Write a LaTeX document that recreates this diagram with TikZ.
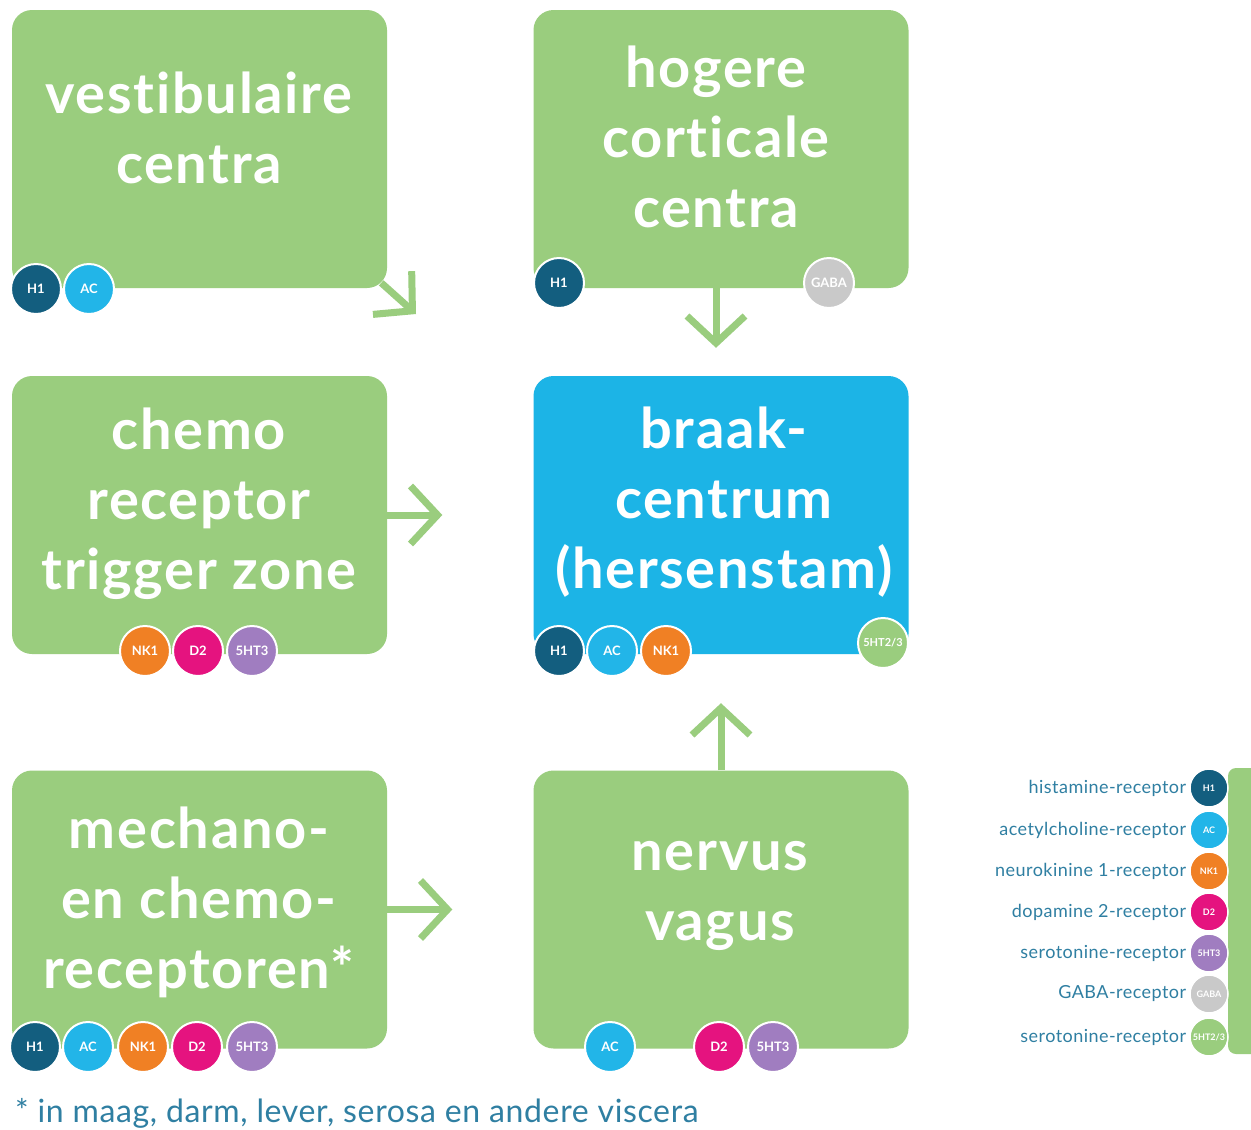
\documentclass[tikz,border=0pt]{standalone}
\usepackage{fontspec}
\setmainfont{Lato}[Ligatures=NoCommon]
\usetikzlibrary{arrows.meta}
\usetikzlibrary{positioning}

\definecolor{boxgreen}{HTML}{9ACD7E}
\definecolor{centreblue}{HTML}{1CB4E6}
\definecolor{hone}{HTML}{135E7F}
\definecolor{acblue}{HTML}{22B5E8}
\definecolor{nkorange}{HTML}{F08024}
\definecolor{dtwo}{HTML}{E5137F}
\definecolor{htthree}{HTML}{A07DC0}
\definecolor{gabagrey}{HTML}{C9C9C9}
\definecolor{legendtext}{HTML}{2F7FA2}

\tikzset{
    regionbox/.style={rectangle, rounded corners=20pt, minimum width=375pt, minimum height=278pt, inner sep=0pt, fill=boxgreen},
    boxtext/.style={text=white, font=\fontsize{56}{70}\selectfont\bfseries\addfontfeatures{LetterSpace=3}, align=center, inner sep=0pt},
    badge/.style={circle, draw=white, line width=2pt, minimum size=50pt, inner sep=0pt, text=white, font=\fontsize{13}{13}\selectfont\bfseries},
    keybadge/.style={badge, minimum size=38pt, line width=1.5pt, font=\fontsize{9}{9}\selectfont\bfseries},
    keylabel/.style={text=legendtext, font=\fontsize{18}{18}\selectfont\addfontfeatures{LetterSpace=2.5}, inner sep=0pt},
    flow/.style={draw=boxgreen, line width=7pt, -{Straight Barb[length=27pt,width=58pt]}}
}

\begin{document}
\begin{tikzpicture}[x=1pt, y=-1pt]
    \fill[white] (0,0) rectangle (1251,1130);
    \useasboundingbox (0,0) rectangle (1251,1130);

    % the six boxes
    \node[regionbox] (vestibulair) at (199.5,149) {};
    \node[regionbox] (hogere) at (721,149) {};
    \node[regionbox] (chemo) at (199.5,515) {};
    \node[regionbox, fill=centreblue] (braak) at (721,515) {};
    \node[regionbox] (mechano) at (199.5,909.5) {};
    \node[regionbox] (nervus) at (721,909.5) {};

    \node[boxtext] (vestibulairtxt) at (199,128) {vestibulaire\\centra};
    \node[boxtext] (hogeretxt) at (716,137) {hogere\\corticale\\centra};
    \node[boxtext] (chemotxt) at (199,504) {chemo\\receptor\\trigger zone};
    \node[boxtext] (braaktxt) at (724,502) {braak-\\centrum\\(hersenstam)};
    \node[boxtext] (mechanotxt) at (199,902) {mechano-\\en chemo-\\receptoren*};
    \node[boxtext] (nervustxt) at (720,896) {nervus\\vagus};

    % arrows
    \coordinate (vestend) at (416,314);
    \draw[flow, shorten <=-8pt] (vestibulair.south east) -- (vestend);
    \draw[flow, shorten >=28pt] ([xshift=-5pt]hogere.south) -- ([xshift=-5pt]braak.north);
    \draw[flow, shorten >=91pt] (chemo.east) -- (braak.west);
    \draw[flow, shorten >=81pt] (mechano.east) -- (nervus.west);
    \draw[flow, shorten >=49pt] (nervus.north) -- (braak.south);

    % receptor badges
    \node[badge, fill=hone] (vesthone) at (36,289) {H1};
    \node[badge, fill=acblue] (vestac) at (89,289) {AC};

    \node[badge, fill=hone] (hogerehone) at (559,283) {H1};
    \node[badge, fill=gabagrey] (hogeregaba) at (829,283) {GABA};

    \node[badge, fill=nkorange] (chemonk) at (145,651) {NK1};
    \node[badge, fill=dtwo] (chemodtwo) at (198,651) {D2};
    \node[badge, fill=htthree] (chemoht) at (252,651) {5HT3};

    \node[badge, fill=hone] (braakhone) at (559,651) {H1};
    \node[badge, fill=acblue] (braakac) at (612,651) {AC};
    \node[badge, fill=nkorange] (braaknk) at (666,651) {NK1};
    \node[badge, fill=boxgreen, font=\fontsize{11}{11}\selectfont\bfseries] (braakht) at (883,643) {5HT2/3};

    \node[badge, fill=hone] (mechanohone) at (35,1047) {H1};
    \node[badge, fill=acblue] (mechanoac) at (88,1047) {AC};
    \node[badge, fill=nkorange] (mechanonk) at (143,1047) {NK1};
    \node[badge, fill=dtwo] (mechanodtwo) at (197,1047) {D2};
    \node[badge, fill=htthree] (mechanoht) at (252,1047) {5HT3};

    \node[badge, fill=acblue] (nervusac) at (610,1047) {AC};
    \node[badge, fill=dtwo] (nervusdtwo) at (719,1047) {D2};
    \node[badge, fill=htthree] (nervusht) at (773,1047) {5HT3};

    % legend
    \begin{scope}
        \clip (0,0) rectangle (1251,1130);
        \fill[boxgreen, rounded corners=8pt] (1228,768) rectangle (1270,1054);
    \end{scope}
    \foreach \ky/\kcol/\ktag/\kname [count=\i] in {
        788/hone/H1/histamine-receptor,
        830/acblue/AC/acetylcholine-receptor,
        871/nkorange/NK1/neurokinine 1-receptor,
        912/dtwo/D2/dopamine 2-receptor,
        953/htthree/5HT3/serotonine-receptor,
        994/gabagrey/GABA/GABA-receptor,
        1037/boxgreen/5HT2\slash 3/serotonine-receptor}{
        \node[keybadge, fill=\kcol] (key\i) at (1209,\ky) {\ktag};
        \node[keylabel, left=3pt of key\i] (keytxt\i) {\kname};
    }

    \node[anchor=base west, text=legendtext, font=\fontsize{32}{32}\selectfont\addfontfeatures{LetterSpace=2}, inner sep=0pt] (footnote) at (15,1122) {* in maag, darm, lever, serosa en andere viscera};
\end{tikzpicture}
\end{document}
